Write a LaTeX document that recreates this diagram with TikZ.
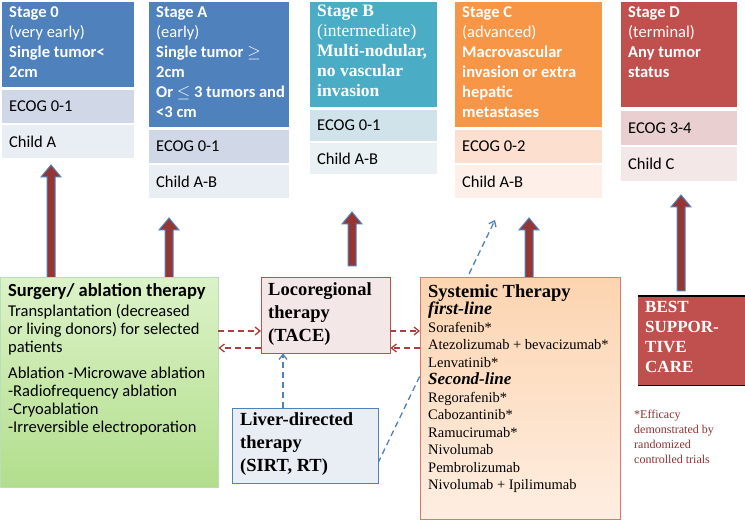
\documentclass[tikz,border=0pt]{standalone}
\usepackage{fontspec}
\setmainfont{Carlito}
\newfontfamily\serif{Liberation Serif}
\usepackage{amssymb}
\usetikzlibrary{positioning,arrows.meta}
\definecolor{hdrblue}{RGB}{79,129,189}
\definecolor{rowblueA}{RGB}{208,216,232}
\definecolor{rowblueB}{RGB}{233,237,244}
\definecolor{hdrteal}{RGB}{75,172,198}
\definecolor{rowtealA}{RGB}{208,227,234}
\definecolor{rowtealB}{RGB}{233,241,245}
\definecolor{hdrorange}{RGB}{247,150,70}
\definecolor{roworangeA}{RGB}{253,223,208}
\definecolor{roworangeB}{RGB}{254,239,233}
\definecolor{hdrred}{RGB}{192,80,77}
\definecolor{rowredA}{RGB}{233,207,207}
\definecolor{rowredB}{RGB}{244,231,231}
\definecolor{arrred}{RGB}{150,54,52}
\definecolor{dashred}{RGB}{170,65,62}
\definecolor{notered}{RGB}{140,50,50}
\tikzset{
  cell/.style={draw=none,anchor=north west,inner sep=0pt},
  txt/.style={anchor=north west,inner sep=0pt,align=left,font=\fontsize{16.5}{20}\selectfont},
  rowtxt/.style={anchor=west,inner sep=0pt,font=\fontsize{16.5}{18}\selectfont},
  bigarr/.style={fill=arrred,draw=hdrblue,line width=1pt},
  dashr/.style={draw=dashred,line width=1.3pt,dash pattern=on 6pt off 4pt,-{Straight Barb[length=5pt,width=8pt]}},
  dashb/.style={draw=hdrblue,line width=1.3pt,dash pattern=on 6pt off 4pt,-{Straight Barb[length=5pt,width=8pt]}},
}
% arrow body: x, top (tip), bottom
\newcommand{\bigarrow}[3]{%
  \draw[bigarr] (#1-4,#3) -- (#1-4,#2+12) -- (#1-10,#2+12) -- (#1,#2) -- (#1+10,#2+12) -- (#1+4,#2+12) -- (#1+4,#3) -- cycle;}
\begin{document}
\begin{tikzpicture}[x=1pt,y=1pt,yscale=-1]
\useasboundingbox (0,0) rectangle (745,521);

%% stage boxes
% Stage 0
\node[cell,fill=hdrblue,minimum width=132,minimum height=85] (s0) at (2,2) {};
\node[cell,fill=rowblueA,minimum width=132,minimum height=33] (s0e) at (2,90) {};
\node[cell,fill=rowblueB,minimum width=132,minimum height=33] (s0c) at (2,125) {};
\node[txt,text=white] (s0t) at (9,6) {\textbf{Stage 0}\\(very early)\\\textbf{Single tumor<}\\\textbf{2cm}};
\node[rowtxt] at ([xshift=7]s0e.west) {ECOG 0-1};
\node[rowtxt] at ([xshift=7]s0c.west) {Child A};
% Stage A
\node[cell,fill=hdrblue,minimum width=140,minimum height=125] (sa) at (149,2) {};
\node[cell,fill=rowblueA,minimum width=140,minimum height=33] (sae) at (149,130) {};
\node[cell,fill=rowblueB,minimum width=140,minimum height=33] (sac) at (149,165) {};
\node[txt,text=white] (sat) at (156,6) {\textbf{Stage A}\\(early)\\\textbf{Single tumor $\geq$}\\\textbf{2cm}\\\textbf{Or $\leq$ 3 tumors and}\\\textbf{<3 cm}};
\node[rowtxt] at ([xshift=7]sae.west) {ECOG 0-1};
\node[rowtxt] at ([xshift=7]sac.west) {Child A-B};
% Stage B
\node[cell,fill=hdrteal,minimum width=127,minimum height=105] (sb) at (310,2) {};
\node[cell,fill=rowtealA,minimum width=127,minimum height=31] (sbe) at (310,110) {};
\node[cell,fill=rowtealB,minimum width=127,minimum height=31] (sbc) at (310,143) {};
\node[txt,text=white,font=\serif\fontsize{17.5}{20}\selectfont] (sbt) at (317,5) {\textbf{Stage B}\\(intermediate)\\\textbf{Multi-nodular,}\\\textbf{no vascular}\\\textbf{invasion}};
\node[rowtxt] at ([xshift=7]sbe.west) {ECOG 0-1};
\node[rowtxt] at ([xshift=7]sbc.west) {Child A-B};
% Stage C
\node[cell,fill=hdrorange,minimum width=147,minimum height=125] (sc) at (455,2) {};
\node[cell,fill=roworangeA,minimum width=147,minimum height=33] (sce) at (455,130) {};
\node[cell,fill=roworangeB,minimum width=147,minimum height=33] (scc) at (455,165) {};
\node[txt,text=white] (sct) at (462,6) {\textbf{Stage C}\\(advanced)\\\textbf{Macrovascular}\\\textbf{invasion or extra}\\\textbf{hepatic}\\\textbf{metastases}};
\node[rowtxt] at ([xshift=7]sce.west) {ECOG 0-2};
\node[rowtxt] at ([xshift=7]scc.west) {Child A-B};
% Stage D
\node[cell,fill=hdrred,minimum width=116,minimum height=105] (sd) at (621,2) {};
\node[cell,fill=rowredA,minimum width=116,minimum height=34] (sde) at (621,111) {};
\node[cell,fill=rowredB,minimum width=116,minimum height=34] (sdc) at (621,147) {};
\node[txt,text=white] (sdt) at (628,6) {\textbf{Stage D}\\(terminal)\\\textbf{Any tumor}\\\textbf{status}};
\node[rowtxt] at ([xshift=7]sde.west) {ECOG 3-4};
\node[rowtxt] at ([xshift=7]sdc.west) {Child C};

%% big arrows
\bigarrow{51}{165}{278}
\bigarrow{169}{218}{278}
\bigarrow{352}{212}{266}
\bigarrow{529}{218}{278}
\bigarrow{681}{195}{291}

%% dashed line behind systemic box
\coordinate (ctip) at (495,220);
\draw[dashb] (378,463) -- (ctip);

%% treatment boxes
\node[cell,draw=green!40!gray!40,top color={rgb,255:red,220;green,242;blue,200},bottom color={rgb,255:red,178;green,222;blue,140},minimum width=218,minimum height=210] (surg) at (0,277) {};
\node[txt,font=\fontsize{16.5}{18}\selectfont] (surgt) at (8,283) {{\fontsize{18.5}{18}\selectfont\textbf{Surgery/ ablation therapy}}\\[2pt]Transplantation (decreased\\or living donors) for selected\\patients\\[8pt]Ablation -Microwave ablation\\-Radiofrequency ablation\\-Cryoablation\\-Irreversible electroporation};

\node[cell,draw=hdrred,fill=rowredB,minimum width=129,minimum height=76] (loco) at (261,277) {};
\node[txt,font=\serif\bfseries\fontsize{18.5}{23}\selectfont] (locot) at (268,282) {Locoregional\\therapy\\(TACE)};

\node[cell,draw={rgb,255:red,220;green,120;blue,110},top color={rgb,255:red,252;green,212;blue,176},bottom color={rgb,255:red,254;green,238;blue,225},minimum width=200,minimum height=242] (sys) at (420,277) {};
\node[txt,font=\serif\fontsize{14.5}{17.5}\selectfont] (syst) at (428,284) {{\fontsize{18.5}{20}\selectfont\textbf{Systemic Therapy}}\\{\fontsize{18}{21}\selectfont\textbf{\textit{first-line}}}\\Sorafenib*\\Atezolizumab + bevacizumab*\\Lenvatinib*\\{\fontsize{17}{19}\selectfont\textbf{\textit{Second-line}}}\\Regorafenib*\\Cabozantinib*\\Ramucirumab*\\Nivolumab\\Pembrolizumab\\Nivolumab + Ipilimumab};

\node[cell,draw=hdrblue,fill=rowblueB,minimum width=146,minimum height=75] (liver) at (232,408) {};
\node[txt,font=\serif\bfseries\fontsize{18.5}{23}\selectfont] (livert) at (240,412) {Liver-directed\\therapy\\(SIRT, RT)};

\node[cell,fill=hdrred,minimum width=107,minimum height=89] (bsc) at (638,296) {};
\draw[line width=1.5pt] (bsc.north west) -- (bsc.north east);
\draw[line width=1.5pt] (bsc.south west) -- (bsc.south east);
\node[txt,text=white,font=\serif\bfseries\fontsize{17}{20}\selectfont] (bsct) at (645,301) {BEST\\SUPPOR-\\TIVE\\CARE};

\node[txt,text=notered,font=\serif\fontsize{12}{15}\selectfont] (note) at (634,410) {*Efficacy\\demonstrated by\\randomized\\controlled trials};

%% dashed connectors
\draw[dashr] (surg.east |- 0,331) -- (loco.west |- 0,331);
\draw[dashr] (loco.west |- 0,348) -- (surg.east |- 0,348);
\draw[dashr] (loco.east |- 0,331) -- (sys.west |- 0,331);
\draw[dashr] (sys.west |- 0,348) -- (loco.east |- 0,348);
\draw[dashb] (liver.north -| 283,0) -- (loco.south -| 283,0);
\end{tikzpicture}
\end{document}
